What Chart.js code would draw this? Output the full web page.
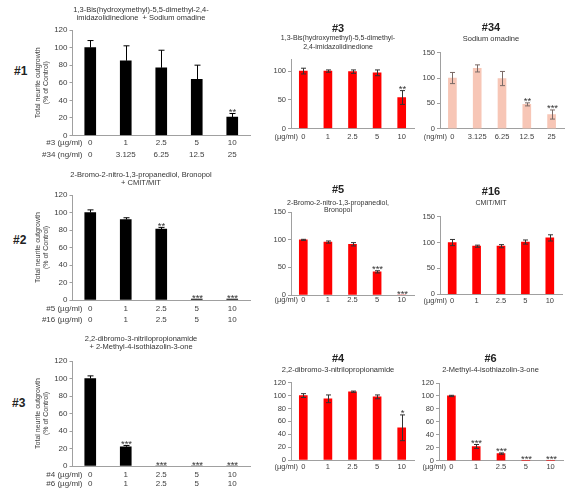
<!DOCTYPE html>
<html>
<head>
<meta charset="utf-8">
<script src="https://cdn.jsdelivr.net/npm/chart.js@4.4.1/dist/chart.umd.min.js"></script>
<style>
  html, body { margin: 0; padding: 0; background: #fff; width: 575px; height: 496px; overflow: hidden; }
  .panel { position: absolute; }
  .row-label { position: absolute; font: bold 12px "Liberation Sans", Arial, sans-serif; color: #222; }
</style>
</head>
<body>
<div class="row-label" style="left:14px;top:64px">#1</div>
<div class="row-label" style="left:13px;top:233px">#2</div>
<div class="row-label" style="left:12px;top:396px">#3</div>
<script>
// dose labels
const ugDoses = ['0', '1', '2.5', '5', '10'];
const ngDoses = ['0', '3.125', '6.25', '12.5', '25'];

// left column: combinations (black bars)
const mix1Values = [100, 85, 77, 64, 21];
const mix1Errors = [8, 17, 20, 16, 4];
const mix1Stars  = ['', '', '', '', '**'];
const mix2Values = [100, 92, 81, 1, 1];
const mix2Errors = [3, 2, 2, 0, 0];
const mix2Stars  = ['', '', '**', '***', '***'];
const mix3Values = [100, 22, 0, 0, 0];
const mix3Errors = [3, 1.5, 0, 0, 0];
const mix3Stars  = ['', '***', '***', '***', '***'];

// single compounds
const c3Values  = [100, 100, 99, 97, 54];
const c3Errors  = [5, 2, 3, 5, 12];
const c3Stars   = ['', '', '', '', '**'];
const c34Values = [100, 119, 99, 48, 28];
const c34Errors = [11, 7, 14, 3, 9];
const c34Stars  = ['', '', '', '**', '***'];
const c5Values  = [100, 96, 92, 42, 0];
const c5Errors  = [1, 2, 3, 2, 0];
const c5Stars   = ['', '', '', '***', '***'];
const c16Values = [100, 93, 93, 101, 109];
const c16Errors = [6, 2, 3, 4, 6];
const c16Stars  = ['', '', '', '', ''];
const c4Values  = [100, 95, 106, 98, 50];
const c4Errors  = [3, 6, 1, 3, 20];
const c4Stars   = ['', '', '', '', '*'];
const c6Values  = [100, 22, 11, 0, 0];
const c6Errors  = [1, 3, 1, 0, 0];
const c6Stars   = ['', '***', '***', '***', '***'];

const FONT = '"Liberation Sans", Arial, sans-serif';
const AXIS = '#a0a0a0';
const TEXT = '#404040';
const RED = '#ff0000';
const PINK = '#f7c6b6';

// error bars, significance stars and dose unit captions
const errorBars = {
  id: 'errorBars',
  afterDatasetsDraw(chart, args, o) {
    if (!o.errors) return;
    const { ctx, chartArea } = chart;
    const xs = chart.scales.x, ys = chart.scales.y;
    const vals = chart.data.datasets[0].data;
    ctx.save();
    ctx.lineWidth = 1;
    ctx.strokeStyle = o.lineColor;
    vals.forEach((v, i) => {
      const e = o.errors[i];
      const x = Math.round(xs.getPixelForValue(i)) + 0.5;
      const top = ys.getPixelForValue(v + e);
      if (e > 0) {
        const bot = ys.getPixelForValue(o.both ? v - e : v);
        ctx.beginPath();
        ctx.moveTo(x, top); ctx.lineTo(x, bot);
        ctx.moveTo(x - o.cap, top); ctx.lineTo(x + o.cap, top);
        if (o.both) { ctx.moveTo(x - o.cap, bot); ctx.lineTo(x + o.cap, bot); }
        ctx.stroke();
      }
      if (o.stars[i]) {
        ctx.fillStyle = '#333';
        ctx.font = o.starFont;
        ctx.textAlign = 'center';
        ctx.textBaseline = 'alphabetic';
        ctx.fillText(o.stars[i], x, top + 1.5);
      }
    });
    ctx.fillStyle = TEXT;
    ctx.font = o.unitFont;
    ctx.textAlign = 'right';
    ctx.textBaseline = 'middle';
    o.units.forEach((u, k) => ctx.fillText(u, chartArea.left + o.unitX, chartArea.bottom + o.rowOffsets[k]));
    ctx.restore();
  }
};
Chart.register(errorBars);

function addPanel(p) {
  const b = p.box, a = p.area;
  const wrap = document.createElement('div');
  wrap.className = 'panel';
  Object.assign(wrap.style, { left: b.x + 'px', top: b.y + 'px', width: b.w + 'px', height: b.h + 'px' });
  const cv = document.createElement('canvas');
  wrap.appendChild(cv);
  document.body.appendChild(wrap);

  const padL = p.padL || 0;
  const yW = a.l - b.x - padL;
  const xH = b.y + b.h - a.b;

  let cursor = b.y;
  let titleOpt = { display: false };
  if (p.title) {
    titleOpt = {
      display: true, text: p.title.text, color: '#222',
      font: { family: FONT, size: p.title.size, weight: 'bold', lineHeight: 1 },
      padding: { top: p.title.y - p.title.size / 2 - cursor, bottom: 0 }
    };
    cursor = p.title.y + p.title.size / 2;
  }
  const s = p.sub;
  const subTop = s.y - s.lh / 2;
  const subOpt = {
    display: true, text: s.lines, color: '#333',
    font: { family: FONT, size: s.size, lineHeight: s.lh / s.size },
    padding: { top: subTop - cursor, bottom: a.t - (subTop + s.lines.length * s.lh) }
  };

  const rowLh = p.rows.length > 1 ? p.rows[1] - p.rows[0] : p.xSize * 1.2;
  const rowOffsets = p.rows.map(r => r - a.b);

  new Chart(cv, {
    type: 'bar',
    data: {
      labels: p.labels,
      datasets: [{ data: p.values, backgroundColor: p.color, barThickness: p.bar, borderWidth: 0 }]
    },
    options: {
      responsive: true,
      maintainAspectRatio: false,
      animation: false,
      devicePixelRatio: 1,
      layout: { autoPadding: false, padding: { left: padL, right: b.x + b.w - a.r, top: 0, bottom: 0 } },
      plugins: {
        legend: { display: false },
        tooltip: { enabled: false },
        title: titleOpt,
        subtitle: subOpt,
        errorBars: {
          errors: p.errors, stars: p.stars, both: p.both, cap: p.cap, lineColor: p.errColor,
          starFont: p.starSize + 'px ' + FONT, unitFont: p.xSize + 'px ' + FONT,
          units: p.units, unitX: p.unitX, rowOffsets: rowOffsets
        }
      },
      scales: {
        x: {
          offset: true,
          afterFit: sc => { sc.height = xH; },
          ticks: {
            autoSkip: false, maxRotation: 0, color: TEXT,
            font: { family: FONT, size: p.xSize, lineHeight: rowLh / p.xSize },
            padding: rowOffsets[0] - rowLh / 2
          },
          grid: { display: false, drawTicks: false },
          border: { display: true, color: AXIS }
        },
        y: {
          min: 0, max: p.max,
          afterFit: sc => { sc.width = yW; },
          ticks: { stepSize: p.step, includeBounds: false, color: TEXT, padding: 2,
                   font: { family: FONT, size: p.ySize } },
          grid: { display: true, drawOnChartArea: false, drawTicks: true, tickLength: 3, color: AXIS },
          border: { display: true, color: AXIS },
          title: p.yTitle ? {
            display: true, text: ['Total neurite outgrowth', '(% of Control)'], color: TEXT,
            font: { family: FONT, size: 7, lineHeight: 8 / 7 }, padding: { top: 2.5, bottom: 0 }
          } : { display: false }
        }
      }
    }
  });
}

const pairLabels = (r1, r2) => r1.map((d, i) => [d, r2[i]]);

const mixBase = { padL: 32, max: 120, step: 20, color: '#000', bar: 11, both: false, cap: 3,
                  errColor: '#000', yTitle: true, xSize: 8, ySize: 8, starSize: 9.5, unitX: 10 };
const redBase = { max: 120, step: 20, color: RED, bar: 8, both: true, cap: 2.5, errColor: '#333',
                  xSize: 7.5, ySize: 7.5, starSize: 9.5, unitX: 7, units: ['(µg/ml)'], labels: ugDoses };

// row 1
addPanel(Object.assign({}, mixBase, {
  box: { x: 0, y: 0, w: 294, h: 165 }, area: { l: 72.5, t: 30, r: 250, b: 135.5 },
  sub: { lines: ['1,3-Bis(hydroxymethyl)-5,5-dimethyl-2,4-', 'imidazolidinedione  + Sodium omadine'], y: 10, size: 7.5, lh: 7.7 },
  labels: pairLabels(ugDoses, ngDoses), rows: [142.5, 155], units: ['#3 (µg/ml)', '#34 (ng/ml)'],
  values: mix1Values, errors: mix1Errors, stars: mix1Stars
}));
addPanel(Object.assign({}, redBase, {
  box: { x: 262, y: 18, w: 174, h: 130 }, area: { l: 291, t: 59.6, r: 414, b: 128.5 }, step: 50,
  title: { text: '#3', y: 29, size: 11 },
  sub: { lines: ['1,3-Bis(hydroxymethyl)-5,5-dimethyl-', '2,4-imidazolidinedione'], y: 38.3, size: 7, lh: 8.4 },
  rows: [136.7], values: c3Values, errors: c3Errors, stars: c3Stars
}));
addPanel(Object.assign({}, redBase, {
  box: { x: 418, y: 18, w: 164, h: 130 }, area: { l: 440, t: 52.7, r: 564, b: 128.7 }, max: 150, step: 50,
  color: PINK, errColor: '#7a6a66', labels: ngDoses, units: ['(ng/ml)'],
  title: { text: '#34', y: 28, size: 11 },
  sub: { lines: ['Sodium omadine'], y: 39.3, size: 7.5, lh: 8 },
  rows: [136.7], values: c34Values, errors: c34Errors, stars: c34Stars
}));

// row 2
addPanel(Object.assign({}, mixBase, {
  box: { x: 0, y: 165, w: 294, h: 163 }, area: { l: 72.5, t: 195, r: 250, b: 300 },
  sub: { lines: ['2-Bromo-2-nitro-1,3-propanediol, Bronopol', '+ CMIT/MIT'], y: 175, size: 7.5, lh: 8.3 },
  labels: pairLabels(ugDoses, ugDoses), rows: [308.3, 319.3], units: ['#5 (µg/ml)', '#16 (µg/ml)'],
  values: mix2Values, errors: mix2Errors, stars: mix2Stars
}));
addPanel(Object.assign({}, redBase, {
  box: { x: 262, y: 178, w: 174, h: 135 }, area: { l: 291, t: 212.3, r: 414, b: 295 }, max: 150, step: 50,
  title: { text: '#5', y: 190, size: 11 },
  sub: { lines: ['2-Bromo-2-nitro-1,3-propanediol,', 'Bronopol'], y: 202.7, size: 7, lh: 7.5 },
  rows: [299.8], values: c5Values, errors: c5Errors, stars: c5Stars
}));
addPanel(Object.assign({}, redBase, {
  box: { x: 420, y: 178, w: 160, h: 135 }, area: { l: 440, t: 216.7, r: 562, b: 294.3 }, max: 150, step: 50,
  title: { text: '#16', y: 192, size: 11 },
  sub: { lines: ['CMIT/MIT'], y: 203.3, size: 7, lh: 8 },
  rows: [300.7], values: c16Values, errors: c16Errors, stars: c16Stars
}));

// row 3
addPanel(Object.assign({}, mixBase, {
  box: { x: 0, y: 328, w: 298, h: 168 }, area: { l: 72.5, t: 361, r: 250, b: 466 },
  sub: { lines: ['2,2-dibromo-3-nitrilopropionamide', '+ 2-Methyl-4-isothiazolin-3-one'], y: 339, size: 7.5, lh: 7.7 },
  labels: pairLabels(ugDoses, ugDoses), rows: [474.3, 483.3], units: ['#4 (µg/ml)', '#6 (µg/ml)'],
  values: mix3Values, errors: mix3Errors, stars: mix3Stars
}));
addPanel(Object.assign({}, redBase, {
  box: { x: 262, y: 345, w: 174, h: 140 }, area: { l: 291, t: 382.7, r: 414, b: 460 },
  title: { text: '#4', y: 359.3, size: 11 },
  sub: { lines: ['2,2-dibromo-3-nitrilopropionamide'], y: 370, size: 7.5, lh: 8 },
  rows: [466.7], values: c4Values, errors: c4Errors, stars: c4Stars
}));
addPanel(Object.assign({}, redBase, {
  box: { x: 418, y: 345, w: 146, h: 140 }, area: { l: 439, t: 383, r: 563, b: 460.7 },
  title: { text: '#6', y: 359.3, size: 11 },
  sub: { lines: ['2-Methyl-4-isothiazolin-3-one'], y: 370, size: 7.5, lh: 8 },
  rows: [466.7], values: c6Values, errors: c6Errors, stars: c6Stars
}));
</script>
</body>
</html>
